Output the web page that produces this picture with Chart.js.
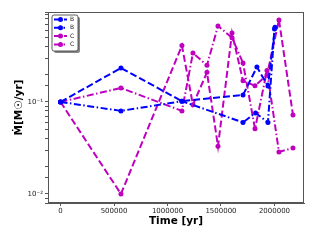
<!DOCTYPE html>
<html>
<head>
<meta charset="utf-8">
<script src="https://cdn.jsdelivr.net/npm/chart.js@4"></script>
<style>
  html, body { margin: 0; padding: 0; background: #fff; }
  #wrap { width: 320px; height: 240px; }
</style>
</head>
<body>
<div id="wrap"><canvas id="chart" width="320" height="240"></canvas></div>
<script>
// values (time in yr, rate in Msun/yr)
const seriesNames = ['B', 'B', 'C', 'C'];

const timeB1 = [0, 565000, 1135000, 1706000, 1836000, 1939000, 2005000];
const rateB1 = [0.1, 0.234, 0.102, 0.119, 0.24, 0.149, 0.65];

const timeB2 = [0, 565000, 1135000, 1706000, 1823000, 1939000, 2000000];
const rateB2 = [0.1, 0.08, 0.102, 0.06, 0.076, 0.06, 0.62];

const timeC = [0, 565000, 1135000, 1238000, 1369000, 1472000, 1603000, 1706000, 1818000, 1930000, 2042000, 2173000];
const rateC1 = [0.1, 0.01, 0.41, 0.093, 0.21, 0.033, 0.56, 0.17, 0.15, 0.196, 0.78, 0.072];
const rateC2 = [0.1, 0.142, 0.08, 0.34, 0.25, 0.67, 0.50, 0.265, 0.051, 0.22, 0.0286, 0.0317];

const xTicks = [0, 500000, 1000000, 1500000, 2000000];
const yTickValues = [0.01, 0.1];
const yTickLabels = ['10\u207B\u00B2', '10\u207B\u00B9'];

const blue = '#0000ff';
const magenta = '#bf00bf';
const dashed = [7, 3];
const dashDot = [7, 2.5, 1.5, 2.5];

function toPoints(xs, ys) {
    return xs.map((x, i) => ({ x: x, y: ys[i] }));
}

function makeSet(label, xs, ys, color, dash) {
    return {
        label: label,
        data: toPoints(xs, ys),
        borderColor: color,
        backgroundColor: color,
        borderWidth: 2,
        borderDash: dash,
        pointRadius: 2.5,
        pointHoverRadius: 2.5,
        pointBorderWidth: 0,
        tension: 0,
        fill: false
    };
}

const datasets = [
    makeSet(seriesNames[0], timeB1, rateB1, blue, dashed),
    makeSet(seriesNames[1], timeB2, rateB2, blue, dashDot),
    makeSet(seriesNames[2], timeC, rateC1, magenta, dashed),
    makeSet(seriesNames[3], timeC, rateC2, magenta, dashDot)
];

// frame round the plot, like matplotlib spines
const frame = {
    id: 'frame',
    afterDraw(chart) {
        const a = chart.chartArea, ctx = chart.ctx;
        ctx.save();
        ctx.strokeStyle = '#555';
        ctx.lineWidth = 1;
        ctx.strokeRect(a.left + 0.5, a.top + 0.5, a.right - a.left - 1, a.bottom - a.top - 1);
        ctx.restore();
    }
};

// small legend box in the upper left corner of the plot
const insideLegend = {
    id: 'insideLegend',
    afterDraw(chart) {
        const a = chart.chartArea, ctx = chart.ctx;
        const bx = a.left + 4, by = a.top + 3, bw = 26, bh = 36;
        ctx.save();
        // shadow
        ctx.fillStyle = '#888';
        ctx.beginPath();
        ctx.roundRect(bx + 2, by + 2, bw, bh, 2);
        ctx.fill();
        ctx.fillStyle = '#fff';
        ctx.strokeStyle = '#333';
        ctx.lineWidth = 0.8;
        ctx.beginPath();
        ctx.roundRect(bx, by, bw, bh, 2);
        ctx.fill();
        ctx.stroke();
        ctx.font = '6px "DejaVu Sans"';
        ctx.textBaseline = 'middle';
        chart.data.datasets.forEach((ds, i) => {
            const y = by + 4.5 + i * 8.3;
            ctx.strokeStyle = ds.borderColor;
            ctx.lineWidth = 2;
            ctx.setLineDash(ds.borderDash);
            ctx.beginPath();
            ctx.moveTo(bx + 2, y);
            ctx.lineTo(bx + 15, y);
            ctx.stroke();
            ctx.setLineDash([]);
            ctx.fillStyle = ds.borderColor;
            ctx.beginPath();
            ctx.arc(bx + 8.5, y, 2.5, 0, Math.PI * 2);
            ctx.fill();
            ctx.fillStyle = '#222';
            ctx.fillText(ds.label, bx + 18, y);
        });
        ctx.restore();
    }
};

new Chart(document.getElementById('chart'), {
    type: 'line',
    data: { datasets: datasets },
    plugins: [frame, insideLegend],
    options: {
        responsive: false,
        animation: false,
        events: [],
        layout: { padding: { left: 0, top: 12, right: 16, bottom: 12 } },
        plugins: {
            legend: { display: false },
            tooltip: { enabled: false }
        },
        scales: {
            x: {
                type: 'linear',
                min: -117000,
                max: 2276000,
                afterBuildTicks: (scale) => {
                    scale.ticks = xTicks.map(v => ({ value: v }));
                },
                afterFit: (scale) => { scale.height = 25; },
                ticks: {
                    maxRotation: 0,
                    autoSkip: false,
                    padding: 1,
                    color: '#222',
                    font: { family: 'DejaVu Sans', size: 7 },
                    callback: (v) => String(v)
                },
                grid: { display: true, drawOnChartArea: false, drawTicks: true, tickLength: 3, color: '#555' },
                border: { color: '#555' },
                title: {
                    display: true,
                    text: 'Time [yr]',
                    color: '#000',
                    font: { family: 'DejaVu Sans', size: 10.5, weight: 'bold' },
                    padding: { top: 1, bottom: 0 }
                }
            },
            y: {
                type: 'logarithmic',
                min: 0.00798,
                max: 0.95,
                afterFit: (scale) => { scale.width = 48; },
                ticks: {
                    autoSkip: false,
                    padding: 2,
                    color: '#222',
                    font: { family: 'DejaVu Sans', size: 7 },
                    callback: (v) => {
                        const k = yTickValues.findIndex(t => Math.abs(t - v) / t < 1e-6);
                        return k >= 0 ? yTickLabels[k] : '';
                    }
                },
                grid: { display: true, drawOnChartArea: false, drawTicks: true, tickLength: 3, color: '#555' },
                border: { color: '#555' },
                title: {
                    display: true,
                    text: '\u1E40[M\u2609/yr]',
                    color: '#000',
                    font: { family: 'DejaVu Sans', size: 10.5, weight: 'bold' },
                    padding: { top: 13, bottom: 0 }
                }
            }
        }
    }
});
</script>
</body>
</html>
